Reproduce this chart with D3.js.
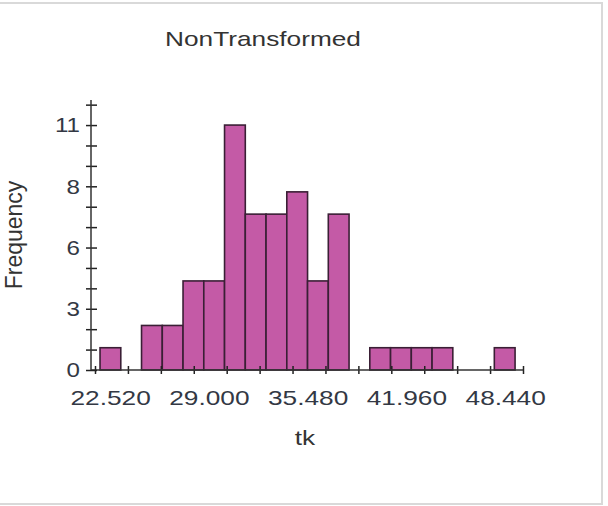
<!DOCTYPE html>
<html>
<head>
<meta charset="utf-8">
<script src="https://cdn.jsdelivr.net/npm/d3@7"></script>
<style>
  body { margin: 0; background: #fff; }
  svg { display: block; font-family: "Liberation Sans", Arial, sans-serif; }
</style>
</head>
<body>
<svg id="chart" width="608" height="506"></svg>
<script>
// histogram bins (tk)
let binStart = 21.86;
let binWidth = 1.3615;
let counts = [1, 0, 2, 2, 4, 4, 11, 7, 7, 8, 4, 7, 0, 1, 1, 1, 1, 0, 0, 1];

// axis ticks
let xTickValues = [21.53, 23.69, 25.85, 28.01, 30.17, 32.33, 34.49, 36.65, 38.81, 40.97, 43.13, 45.29, 47.45, 49.61];
let xLabelValues = [22.52, 29.00, 35.48, 41.96, 48.44];
let yTickValues = [0, 0.917, 1.833, 2.75, 3.667, 4.583, 5.5, 6.417, 7.333, 8.25, 9.167, 10.083, 11, 11.917];
let yLabelValues = [0, 2.75, 5.5, 8.25, 11];

let drawChart = function() {
  let svg = d3.select("#chart");
  let stretch = "scale(1.25,1)";

  // light frame
  svg.append("path")
    .attr("d", "M0,3H602V504H0")
    .attr("fill", "none")
    .attr("stroke", "#d9d9d9")
    .attr("stroke-width", 2);

  let x = d3.scaleLinear()
    .domain([21.53, 49.61])
    .range([95, 523]);

  let y = d3.scaleLinear()
    .domain([0, 12])
    .range([370, 102.8]);

  let bins = counts.map(function(c, i) {
    return { x0: binStart + i * binWidth, x1: binStart + (i + 1) * binWidth, count: c };
  });

  // bars
  svg.append("g").selectAll("rect")
    .data(bins.filter(function(d) { return d.count > 0; }))
    .enter().append("rect")
    .attr("x", function(d) { return x(d.x0); })
    .attr("y", function(d) { return y(d.count); })
    .attr("width", function(d) { return x(d.x1) - x(d.x0); })
    .attr("height", function(d) { return y(0) - y(d.count); })
    .attr("fill", "#c45aa6")
    .attr("stroke", "#3a1f35")
    .attr("stroke-width", 1.6);

  // x axis: ticks crossing the line
  let xAxis = d3.axisBottom(x)
    .tickValues(xTickValues)
    .tickSize(8)
    .tickFormat("");
  let xGroup = svg.append("g")
    .attr("transform", "translate(0,366)")
    .call(xAxis);
  xGroup.select(".domain").remove();
  xGroup.selectAll("line").attr("stroke", "#222").attr("stroke-width", 1.5);

  svg.append("line")
    .attr("x1", 91).attr("x2", x(49.61))
    .attr("y1", y(0)).attr("y2", y(0))
    .attr("stroke", "#333").attr("stroke-width", 1.5);

  let xLabels = d3.axisBottom(x)
    .tickValues(xLabelValues)
    .tickSize(0)
    .tickPadding(20)
    .tickFormat(d3.format(".3f"));
  let xlGroup = svg.append("g")
    .attr("transform", "translate(0," + y(0) + ")")
    .call(xLabels);
  xlGroup.select(".domain").remove();
  xlGroup.selectAll("text")
    .attr("font-size", 21)
    .attr("font-family", "Liberation Sans, Arial, sans-serif")
    .attr("fill", "#333844")
    .attr("transform", stretch);

  // y axis
  let yAxis = d3.axisLeft(y)
    .tickValues(yTickValues)
    .tickSize(11)
    .tickFormat("");
  let yGroup = svg.append("g")
    .attr("transform", "translate(97,0)")
    .call(yAxis);
  yGroup.select(".domain").remove();
  yGroup.selectAll("line").attr("stroke", "#222").attr("stroke-width", 1.5);

  svg.append("line")
    .attr("x1", 91).attr("x2", 91)
    .attr("y1", 100).attr("y2", y(0))
    .attr("stroke", "#333").attr("stroke-width", 1.5);

  let yLabels = d3.axisLeft(y)
    .tickValues(yLabelValues)
    .tickSize(0)
    .tickPadding(0)
    .tickFormat(d3.format(".0f"));
  let ylGroup = svg.append("g")
    .attr("transform", "translate(80,0)")
    .call(yLabels);
  ylGroup.select(".domain").remove();
  ylGroup.selectAll("text")
    .attr("font-size", 21)
    .attr("font-family", "Liberation Sans, Arial, sans-serif")
    .attr("fill", "#333844")
    .attr("transform", "scale(1.15,1)");

  // title and axis titles
  svg.append("text")
    .attr("transform", "translate(263,46) " + stretch)
    .attr("text-anchor", "middle")
    .attr("font-size", 21)
    .attr("fill", "#333")
    .text("NonTransformed");

  svg.append("text")
    .attr("transform", "translate(305,445) " + stretch)
    .attr("text-anchor", "middle")
    .attr("font-size", 21)
    .attr("fill", "#333")
    .text("tk");

  svg.append("text")
    .attr("transform", "translate(22,235) rotate(-90)")
    .attr("text-anchor", "middle")
    .attr("font-size", 23)
    .attr("fill", "#333")
    .text("Frequency");
}

drawChart();
</script>
</body>
</html>
